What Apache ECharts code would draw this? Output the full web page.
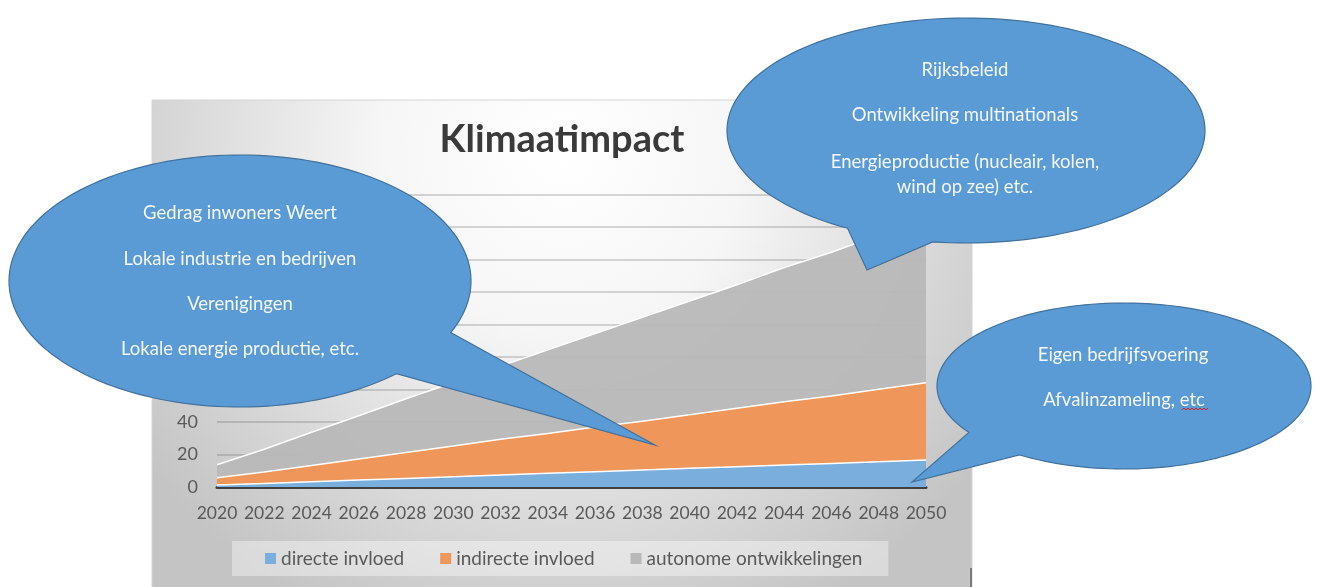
<!DOCTYPE html>
<html>
<head>
<meta charset="utf-8">
<script src="https://cdn.jsdelivr.net/npm/echarts@6/dist/echarts.min.js"></script>
<style>
html,body{margin:0;padding:0;background:#fff;}
#chart{width:1317px;height:587px;}
</style>
</head>
<body>
<div id="chart"></div>
<script>
// ---- data ----
const years = ['2020','2022','2024','2026','2028','2030','2032','2034','2036','2038','2040','2042','2044','2046','2048','2050'];
const directeInvloed = [1.2, 2.2, 3.2, 4.3, 5.3, 6.3, 7.4, 8.4, 9.4, 10.4, 11.5, 12.5, 13.5, 14.5, 15.6, 16.6];
const indirecteInvloed = [4.5, 7, 10, 13, 16, 19, 22, 24.5, 27.5, 30, 33, 36, 39, 41.5, 44.5, 47.5];
const autonomeOntwikkelingen = [8, 14, 20.5, 26.5, 33, 39, 45, 51.5, 57.5, 64, 70, 76, 82.5, 88.5, 95, 101];
const seriesNames = ['directe invloed', 'indirecte invloed', 'autonome ontwikkelingen'];
const chartTitle = 'Klimaatimpact';
const bubbleLeftText = ['Gedrag inwoners Weert', 'Lokale industrie en bedrijven', 'Verenigingen', 'Lokale energie productie, etc.'];
const bubbleTopText = ['Rijksbeleid', 'Ontwikkeling multinationals', 'Energieproductie (nucleair, kolen,', 'wind op zee) etc.'];
const bubbleRightText = ['Eigen bedrijfsvoering', 'Afvalinzameling, etc'];

// ---- helpers ----
function bubblePoints(cx, cy, rx, ry, a1, a2, tip) {
  const pts = [];
  const n = 160;
  for (let i = 0; i <= n; i++) {
    const a = (a1 + (a2 - a1) * i / n) * Math.PI / 180;
    pts.push([cx + rx * Math.cos(a), cy + ry * Math.sin(a)]);
  }
  pts.push(tip);
  return pts;
}
const bubbleFill = '#5b9bd5';
const bubbleStroke = '#41719c';
const FONT = 'Lato, "Open Sans", sans-serif';
function bubble(pts) {
  return { type: 'polygon', z: 100, shape: { points: pts }, style: { fill: bubbleFill, stroke: bubbleStroke, lineWidth: 1.2 } };
}
function label(text, x, y) {
  return { type: 'text', z: 101, x: x, y: y, style: { text: text, fill: '#f4f7fb', font: '18.5px ' + FONT, textAlign: 'center', textVerticalAlign: 'middle' } };
}

const graphics = [
  { type: 'rect', z: -10, shape: { x: 152, y: 100, width: 820, height: 500 },
    style: { fill: new echarts.graphic.RadialGradient(562, 150, 520, [
      { offset: 0, color: '#ffffff' }, { offset: 0.35, color: '#f6f6f6' },
      { offset: 0.8, color: '#d3d3d3' }, { offset: 1, color: '#c4c4c4' }], true),
      stroke: '#d4d4d4', lineWidth: 1 } },
  { type: 'line', z: -9, shape: { x1: 971, y1: 568, x2: 971, y2: 587 }, style: { stroke: '#7a7a7a', lineWidth: 2 } },
  bubble(bubblePoints(240, 281, 231, 126, 47.4, 384.2, [655, 445])),
  bubble(bubblePoints(966, 130.5, 239, 112.5, 119.7, 458, [867, 270])),
  bubble(bubblePoints(1124, 386, 187, 83, 146, 484, [912, 482])),
  label(bubbleLeftText[0], 240, 213),
  label(bubbleLeftText[1], 240, 259),
  label(bubbleLeftText[2], 240, 304),
  label(bubbleLeftText[3], 240, 349),
  label(bubbleTopText[0], 965, 70),
  label(bubbleTopText[1], 965, 115),
  label(bubbleTopText[2], 965, 162),
  label(bubbleTopText[3], 965, 187),
  label(bubbleRightText[0], 1123, 355),
  label(bubbleRightText[1], 1124, 400),
  { type: 'polyline', z: 102, shape: { points: [[1182,410],[1184,408],[1186,410],[1188,408],[1190,410],[1192,408],[1194,410],[1196,408],[1198,410],[1200,408],[1202,410],[1204,408],[1206,410],[1208,408]] },
    style: { stroke: '#d32020', lineWidth: 1, fill: null } }
];

const chart = echarts.init(document.getElementById('chart'), null, { renderer: 'canvas' });
chart.setOption({
  backgroundColor: '#ffffff',
  animation: false,
  title: {
    text: chartTitle, left: 562, top: 121, padding: 0, textAlign: 'center',
    textStyle: { fontFamily: FONT, fontWeight: 'bold', fontSize: 38, color: '#3a3a3a' }
  },
  legend: {
    data: seriesNames, left: 232, top: 541, padding: [8, 26, 8, 33], itemGap: 36,
    itemWidth: 11, itemHeight: 11, icon: 'rect',
    backgroundColor: 'rgba(255,255,255,0.38)',
    textStyle: { fontFamily: FONT, fontSize: 19, color: '#595959' }
  },
  grid: { left: 217, right: 391, top: 194.5, bottom: 100, containLabel: false },
  xAxis: {
    type: 'category', data: years, boundaryGap: false,
    axisLine: { lineStyle: { color: '#404040', width: 3 } },
    axisTick: { show: false },
    axisLabel: { interval: 0, hideOverlap: false, fontFamily: FONT, fontSize: 17.5, color: '#595959', margin: 17 }
  },
  yAxis: {
    type: 'value', min: 0, max: 180, interval: 20,
    axisLine: { show: false }, axisTick: { show: false },
    axisLabel: { fontFamily: FONT, fontSize: 18, color: '#595959', margin: 19 },
    splitLine: { lineStyle: { color: 'rgba(80,80,80,0.3)', width: 1.5 } }
  },
  series: [
    { name: seriesNames[0], type: 'line', stack: 'total', data: directeInvloed, symbol: 'none',
      itemStyle: { color: '#7aaedd' }, lineStyle: { color: '#ffffff', width: 1.5 },
      areaStyle: { color: '#7aaedd', opacity: 1 } },
    { name: seriesNames[1], type: 'line', stack: 'total', data: indirecteInvloed, symbol: 'none',
      itemStyle: { color: '#ef965a' }, lineStyle: { color: '#ffffff', width: 1.5 },
      areaStyle: { color: '#ef965a', opacity: 1 } },
    { name: seriesNames[2], type: 'line', stack: 'total', data: autonomeOntwikkelingen, symbol: 'none',
      itemStyle: { color: '#b8b8b8' }, lineStyle: { color: '#ffffff', width: 1.5 },
      areaStyle: { color: '#b8b8b8', opacity: 0.95 } }
  ],
  graphic: graphics
});
</script>
</body>
</html>
